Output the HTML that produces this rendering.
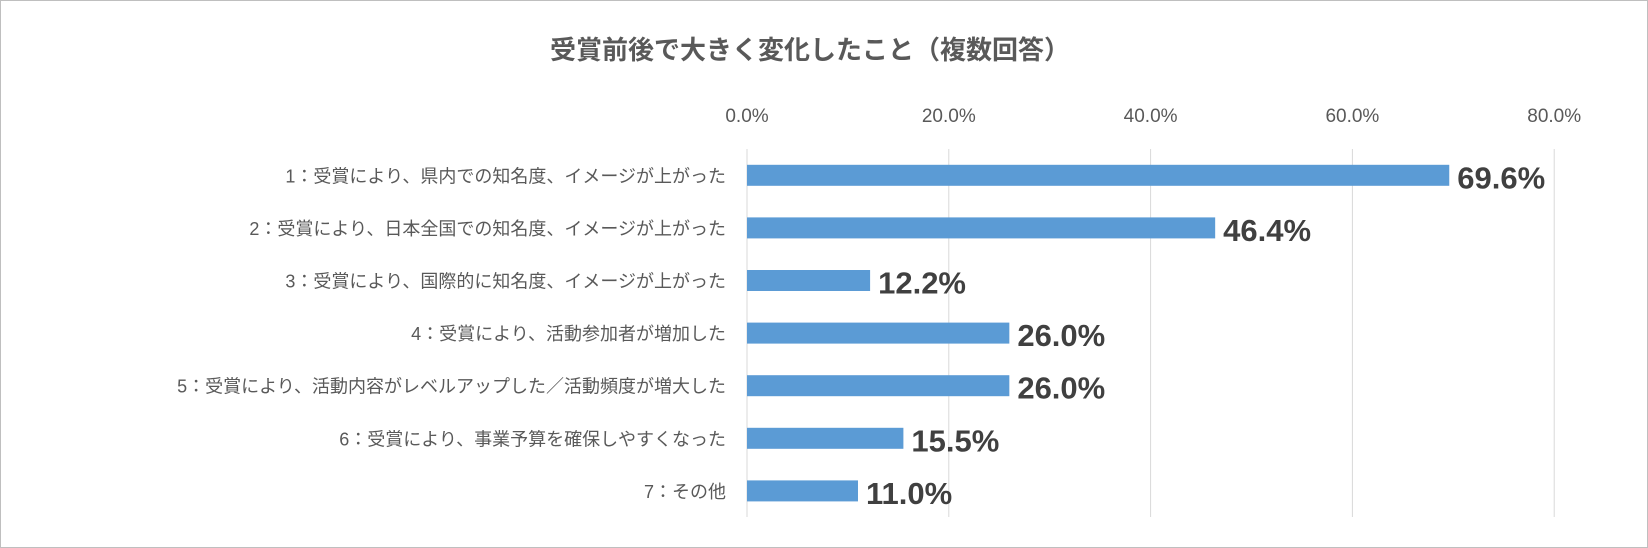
<!DOCTYPE html>
<html><head><meta charset="utf-8">
<style>
html,body{margin:0;padding:0;background:#fff;}
#chart{position:relative;width:1646px;height:546px;border:1px solid #bfbfbf;background:#fff;font-family:"Liberation Sans","Noto Sans CJK JP",sans-serif;}
svg{position:absolute;left:0;top:0;}
</style></head>
<body>
<div id="chart">
<svg id="svg" width="1646" height="546"></svg>
</div>
<script>
const categories=["1：受賞により、県内での知名度、イメージが上がった","2：受賞により、日本全国での知名度、イメージが上がった","3：受賞により、国際的に知名度、イメージが上がった","4：受賞により、活動参加者が増加した","5：受賞により、活動内容がレベルアップした／活動頻度が増大した","6：受賞により、事業予算を確保しやすくなった","7：その他"];
const values=[69.6,46.4,12.2,26.0,26.0,15.5,11.0];
const ticks=[0,20,40,60,80];
const tickLabels=["0.0%","20.0%","40.0%","60.0%","80.0%"];
const NS="http://www.w3.org/2000/svg";
const svg=document.getElementById('svg');
const x0=746,pxPer=10.09,yTop=148,yBot=516,rowH=52.6,barH=21;
const xs=v=>x0+v*pxPer;
const ys=i=>yTop+rowH*i+rowH/2;
function mk(t,a,txt){const e=document.createElementNS(NS,t);for(const k in a)e.setAttribute(k,a[k]);if(txt!==undefined)e.textContent=txt;svg.appendChild(e);return e;}
let t=mk('text',{x:809,y:58,'text-anchor':'middle','font-size':26,'font-weight':'bold',fill:'#595959','font-family':'"Liberation Sans","Noto Sans CJK JP",sans-serif'},'受賞前後で大きく変化したこと（複数回答）');

ticks.forEach((v,i)=>{
 const g=mk('line',{x1:xs(v),x2:xs(v),y1:yTop,y2:yBot,stroke:'#d9d9d9','stroke-width':1});
 
 const l=mk('text',{x:xs(v),y:121,'text-anchor':'middle','font-size':19,fill:'#595959'},tickLabels[i]);
 
});
categories.forEach((c,i)=>{
 const cl=mk('text',{x:725,y:ys(i)+7,'text-anchor':'end','font-size':18,fill:'#595959'},c);
 
 const b=mk('rect',{x:x0,y:ys(i)-barH/2,width:values[i]*pxPer,height:barH,fill:'#5b9bd5'});
 
 const vl=mk('text',{x:xs(values[i])+8,y:ys(i)+13,'font-size':31,'font-weight':'bold',fill:'#404040'},values[i].toFixed(1)+'%');
 
});
</script>
</body></html>
